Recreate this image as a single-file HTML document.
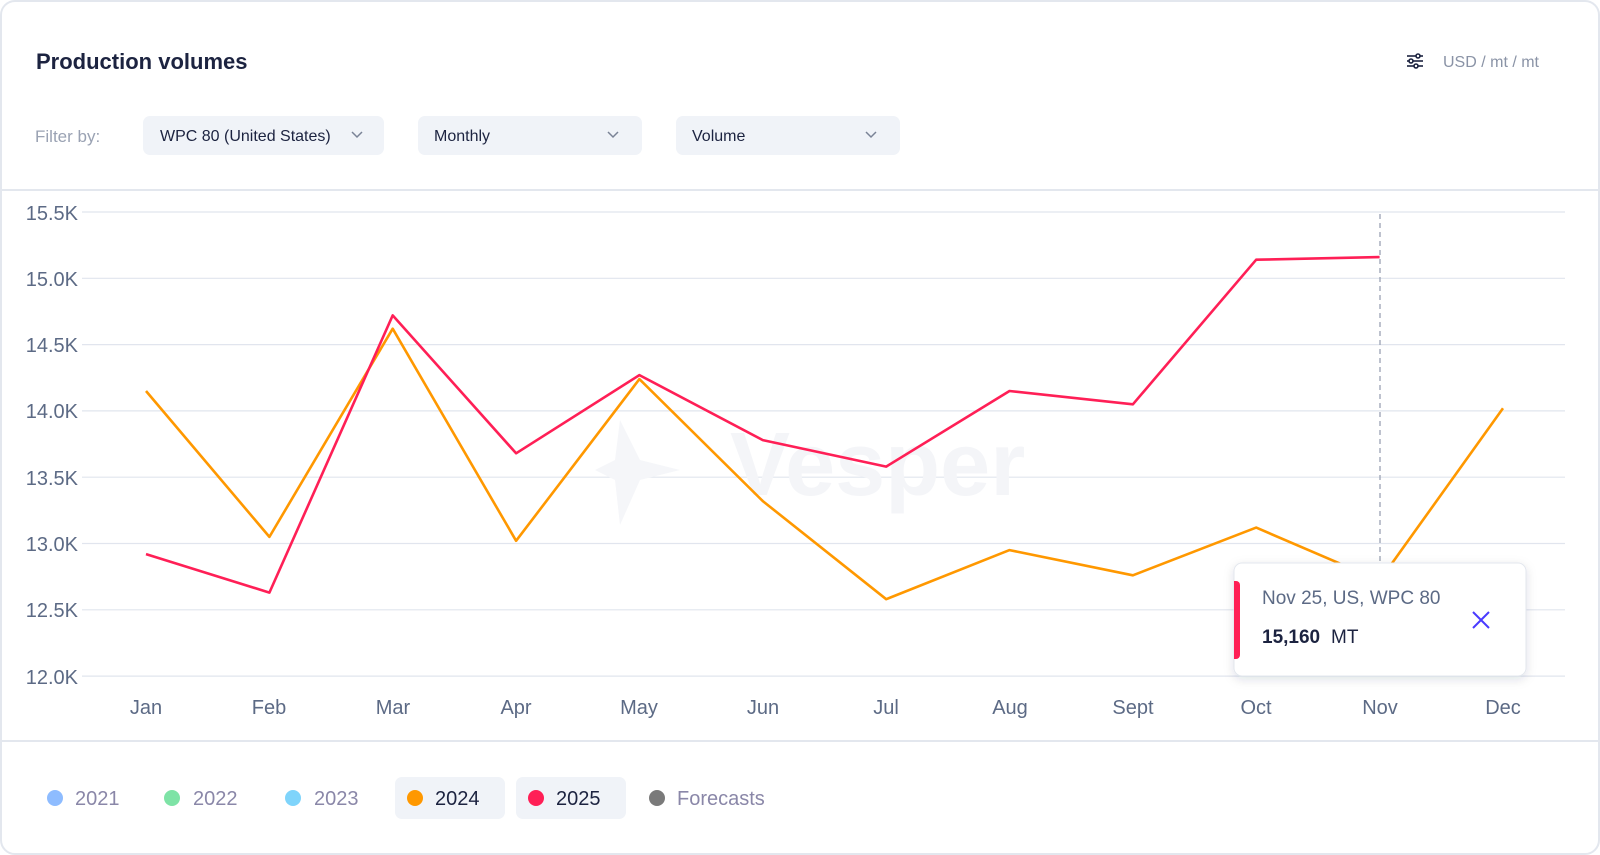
<!DOCTYPE html>
<html><head><meta charset="utf-8"><style>
body{margin:0;background:#fff;}
svg{display:block;font-family:"Liberation Sans",sans-serif;}
</style></head><body>
<svg width="1600" height="855" viewBox="0 0 1600 855" xmlns="http://www.w3.org/2000/svg">
<defs><filter id="sh" x="-10%" y="-20%" width="120%" height="150%"><feDropShadow dx="0" dy="3" stdDeviation="5" flood-color="#1a2240" flood-opacity="0.13"/></filter></defs>
<rect x="1" y="1" width="1598" height="853" rx="14" fill="#fff" stroke="#e3e7ee" stroke-width="2"/>
<text x="36" y="69" font-size="22" font-weight="bold" fill="#1c2340">Production volumes</text>
<g stroke="#1c2340" stroke-width="1.6" fill="#fff">
<line x1="1407" y1="56" x2="1423" y2="56"/><line x1="1407" y1="61" x2="1423" y2="61"/><line x1="1407" y1="66" x2="1423" y2="66"/>
<circle cx="1418" cy="56" r="2"/><circle cx="1411" cy="61" r="2"/><circle cx="1416" cy="66" r="2"/></g>
<text x="1443" y="67" font-size="16" fill="#8a93a6">USD / mt / mt</text>
<text x="35" y="142" font-size="17" fill="#9aa2b3">Filter by:</text>
<rect x="143" y="116" width="241" height="39" rx="7" fill="#f0f3f8"/>
<text x="160" y="141" font-size="16" fill="#1c2340">WPC 80 (United States)</text>
<path d="M352 132l5 5 5-5" stroke="#7a8396" stroke-width="1.5" fill="none"/>
<rect x="418" y="116" width="224" height="39" rx="7" fill="#f0f3f8"/>
<text x="434" y="141" font-size="16" fill="#1c2340">Monthly</text>
<path d="M608 132l5 5 5-5" stroke="#7a8396" stroke-width="1.5" fill="none"/>
<rect x="676" y="116" width="224" height="39" rx="7" fill="#f0f3f8"/>
<text x="692" y="141" font-size="16" fill="#1c2340">Volume</text>
<path d="M866 132l5 5 5-5" stroke="#7a8396" stroke-width="1.5" fill="none"/>
<line x1="0" y1="190" x2="1600" y2="190" stroke="#e3e7ee" stroke-width="2"/>
<line x1="0" y1="741" x2="1600" y2="741" stroke="#e3e7ee" stroke-width="2"/>
<g stroke="#e1e5ee" stroke-width="1.2">
<line x1="82" y1="212" x2="1565" y2="212"/><line x1="82" y1="278.3" x2="1565" y2="278.3"/><line x1="82" y1="344.6" x2="1565" y2="344.6"/><line x1="82" y1="410.9" x2="1565" y2="410.9"/><line x1="82" y1="477.2" x2="1565" y2="477.2"/><line x1="82" y1="543.5" x2="1565" y2="543.5"/><line x1="82" y1="609.8" x2="1565" y2="609.8"/><line x1="82" y1="676.1" x2="1565" y2="676.1"/></g>
<g font-size="20" fill="#5c6a85" text-anchor="end">
<text x="78" y="220">15.5K</text><text x="78" y="286">15.0K</text><text x="78" y="352">14.5K</text><text x="78" y="418">14.0K</text><text x="78" y="485">13.5K</text><text x="78" y="551">13.0K</text><text x="78" y="617">12.5K</text><text x="78" y="684">12.0K</text></g>
<g font-size="20" fill="#5c6a85" text-anchor="middle">
<text x="146" y="714">Jan</text><text x="269" y="714">Feb</text><text x="393" y="714">Mar</text><text x="516" y="714">Apr</text><text x="639" y="714">May</text><text x="763" y="714">Jun</text><text x="886" y="714">Jul</text><text x="1010" y="714">Aug</text><text x="1133" y="714">Sept</text><text x="1256" y="714">Oct</text><text x="1380" y="714">Nov</text><text x="1503" y="714">Dec</text></g>
<path d="M620 420l20 40 40 10-40 10-20 45-5-45-20-10 20-10z" fill="#f5f6f9"/>
<text x="730" y="495" font-size="90" font-weight="bold" fill="#f4f5f8">Vesper</text>
<line x1="1380" y1="214" x2="1380" y2="565" stroke="#9aa2b3" stroke-width="1.3" stroke-dasharray="5,4"/>
<polyline fill="none" stroke="#ff9800" stroke-width="2.6" stroke-linejoin="round" points="146,391 269.4,536.9 392.7,328.7 516.1,540.8 639.4,379.1 762.8,501.1 886.2,599.2 1009.5,550.1 1132.9,575.3 1256.2,527.6 1379.6,580.6 1503,408.2"/>
<polyline fill="none" stroke="#ff1f56" stroke-width="2.6" stroke-linejoin="round" points="146,554.1 269.4,592.6 392.7,315.4 516.1,453.3 639.4,375.1 762.8,440.1 886.2,466.6 1009.5,391 1132.9,404.3 1256.2,259.7 1379.6,257.1"/>
<rect x="1234" y="563" width="292" height="113" rx="8" fill="#fff" stroke="#e3e7ee" filter="url(#sh)"/>
<path d="M1234 581h2a4 4 0 0 1 4 4v70a4 4 0 0 1-4 4h-2z" fill="#ff1f56"/>
<text x="1262" y="604" font-size="19" fill="#5c6a85">Nov 25, US, WPC 80</text>
<text x="1262" y="643" font-size="19" font-weight="bold" fill="#1c2340">15,160</text>
<text x="1331" y="643" font-size="19" fill="#1c2340">MT</text>
<path d="M1473 612l16 16M1489 612l-16 16" stroke="#4a3aff" stroke-width="2"/>
<g font-size="20">
<circle cx="55" cy="798" r="8" fill="#8ebcff"/><text x="75" y="805" fill="#8a87a8">2021</text>
<circle cx="172" cy="798" r="8" fill="#7ee3a6"/><text x="193" y="805" fill="#8a87a8">2022</text>
<circle cx="293" cy="798" r="8" fill="#7fd4fb"/><text x="314" y="805" fill="#8a87a8">2023</text>
<rect x="395" y="777" width="110" height="42" rx="7" fill="#f0f3f8"/>
<circle cx="415" cy="798" r="8" fill="#ff9800"/><text x="435" y="805" fill="#1c2340">2024</text>
<rect x="516" y="777" width="110" height="42" rx="7" fill="#f0f3f8"/>
<circle cx="536" cy="798" r="8" fill="#ff1f56"/><text x="556" y="805" fill="#1c2340">2025</text>
<circle cx="657" cy="798" r="8" fill="#7a7a7a"/><text x="677" y="805" fill="#8a87a8">Forecasts</text>
</g>
</svg>
</body></html>
